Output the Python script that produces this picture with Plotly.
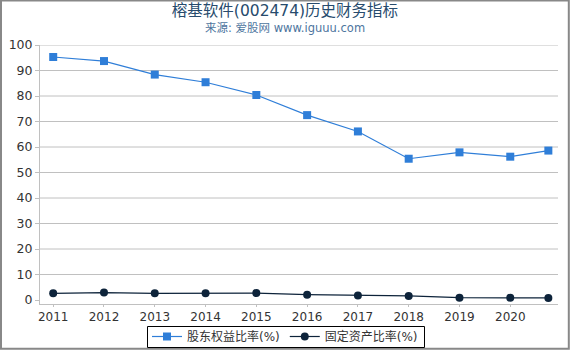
import plotly.graph_objects as go

# Data
years = [2011, 2012, 2013, 2014, 2015, 2016, 2017, 2018, 2019, 2020, 2020.75]
equity_ratio = [95.3, 93.7, 88.4, 85.4, 80.4, 72.5, 66.1, 55.4, 57.9, 56.2, 58.6]
fixed_asset_ratio = [2.6, 2.9, 2.6, 2.6, 2.7, 2.1, 1.8, 1.6, 0.9, 0.9, 0.8]
x_ticks = [2011, 2012, 2013, 2014, 2015, 2016, 2017, 2018, 2019, 2020]
y_ticks = [0, 10, 20, 30, 40, 50, 60, 70, 80, 90, 100]
series_names = ["股东权益比率(%)", "固定资产比率(%)"]
title_text = "榕基软件(002474)历史财务指标"
subtitle_text = "来源: 爱股网 www.iguuu.com"

W, H = 570, 350
ML, MR, MT, MB = 40, 12, 45, 46
PW, PH = W - ML - MR, H - MT - MB

FONT = "DejaVu Sans, Noto Sans CJK SC, sans-serif"

fig = go.Figure()
fig.add_trace(go.Scatter(
    x=years, y=equity_ratio, name=series_names[0], mode="lines+markers",
    line=dict(color="#2f7ed8", width=1.2),
    marker=dict(symbol="square", size=8, color="#2f7ed8"),
))
fig.add_trace(go.Scatter(
    x=years, y=fixed_asset_ratio, name=series_names[1], mode="lines+markers",
    line=dict(color="#0d233a", width=1.2),
    marker=dict(symbol="circle", size=8, color="#0d233a"),
))

# horizontal grid lines (except the zero line, which the reference does not draw)
for v in y_ticks[1:]:
    fig.add_shape(type="line", xref="paper", yref="y", x0=0, x1=1, y0=v, y1=v,
                  line=dict(color="#c0c0c0", width=1), layer="below")

def px_to_paper_x(px):
    return (px - ML) / PW

def px_to_paper_y(py):
    return (H - MB - py) / PH

# outer border of the chart
fig.add_shape(type="rect", xref="paper", yref="paper",
              x0=px_to_paper_x(1), x1=px_to_paper_x(568.8),
              y0=px_to_paper_y(348.8), y1=px_to_paper_y(0.5),
              line=dict(color="#888888", width=2), fillcolor="rgba(0,0,0,0)")

# legend frame (drawn as a shape so it can be slimmer than plotly's legend box)
fig.add_shape(type="rect", xref="paper", yref="paper",
              x0=px_to_paper_x(147.5), x1=px_to_paper_x(424.5),
              y0=px_to_paper_y(347.5), y1=px_to_paper_y(326.5),
              line=dict(color="#000000", width=1), fillcolor="white")

fig.add_annotation(text=subtitle_text, xref="paper", yref="paper",
                   x=px_to_paper_x(W / 2), y=px_to_paper_y(28),
                   xanchor="center", yanchor="middle", showarrow=False,
                   font=dict(family=FONT, size=11.5, color="#4d759e"))

fig.update_layout(
    width=W, height=H,
    margin=dict(l=ML, r=MR, t=MT, b=MB, autoexpand=False),
    paper_bgcolor="white", plot_bgcolor="white",
    font=dict(family=FONT, size=12, color="#333333"),
    title=dict(text=title_text, x=0.5, xref="container", xanchor="center",
               y=1 - 11 / H, yref="container", yanchor="middle",
               font=dict(family=FONT, size=15.5, color="#274b6d")),
    showlegend=True,
    legend=dict(orientation="h", xref="container", yref="container",
                x=0.5, xanchor="center", y=1 - 322 / H, yanchor="top",
                borderwidth=0, bgcolor="rgba(0,0,0,0)",
                font=dict(family=FONT, size=12, color="#333333"),
                itemwidth=30, tracegroupgap=0),
    xaxis=dict(range=[2010.74, 2020.94], tickvals=x_ticks,
               ticktext=[str(t) for t in x_ticks],
               showgrid=False, zeroline=False,
               showline=True, linecolor="#c0c0c0", linewidth=1,
               ticks="outside", ticklen=2, tickcolor="#c0c0c0",
               tickfont=dict(family=FONT, size=12, color="#333333")),
    yaxis=dict(range=[-1.57, 100], tickvals=y_ticks,
               showgrid=False, zeroline=False,
               showline=True, linecolor="#c0c0c0", linewidth=1,
               ticks="outside", ticklen=4, tickcolor="#c0c0c0",
               tickfont=dict(family=FONT, size=12.5, color="#333333")),
)

fig.write_html("out.html")
